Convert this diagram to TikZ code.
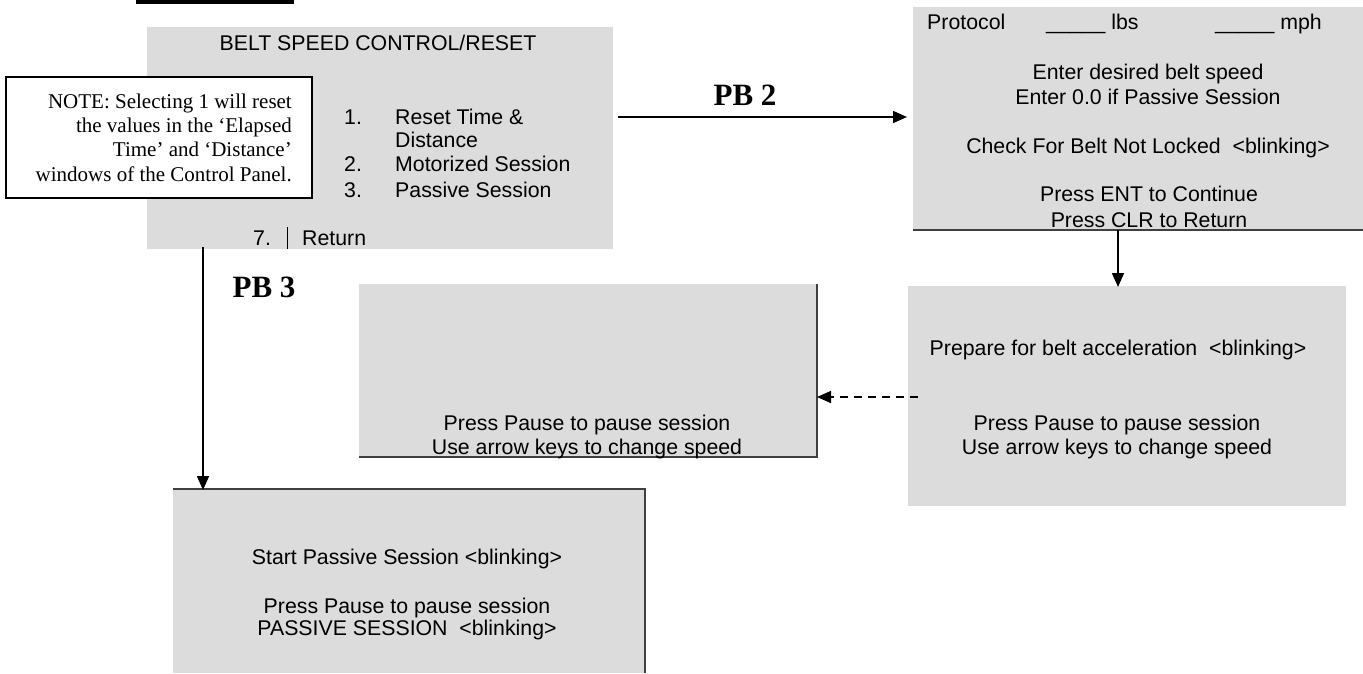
\documentclass[tikz,border=0pt]{standalone}
\usepackage{fontspec}
\setmainfont{Liberation Serif}
\newfontfamily\uifont{Liberation Sans}
\usetikzlibrary{arrows.meta,calc}
\definecolor{panel}{HTML}{DCDCDC}
\definecolor{edgecol}{HTML}{404040}
\begin{document}
\begin{tikzpicture}[x=1pt,y=-1pt,
  panelbox/.style={fill=panel,draw=none,inner sep=0pt,outer sep=0pt},
  ui/.style={font=\uifont\fontsize{21.3}{25}\selectfont,inner sep=0pt,text height=18pt,text depth=3pt},
  notetext/.style={font=\fontsize{21}{24.4}\selectfont,inner sep=0pt,align=right},
  pblabel/.style={font=\bfseries\fontsize{31}{36}\selectfont,inner sep=0pt},
  arr/.style={line width=1.6pt,-{Triangle[length=14pt,width=12pt]}},
  edgeline/.style={draw=edgecol,line width=2.2pt}]
\useasboundingbox (0,0) rectangle (1363,673);
% top bar
\fill (136,0) rectangle (294,3.5);

% panels
\node[panelbox,minimum width=466pt,minimum height=222pt] (b1) at (380,138) {};
\node[panelbox,minimum width=450pt,minimum height=223pt] (b2) at (1138,118.5) {};
\node[panelbox,minimum width=458pt,minimum height=173pt] (b3) at (588,370.5) {};
\node[panelbox,minimum width=438pt,minimum height=220pt] (b4) at (1127,396) {};
\node[panelbox,minimum width=472pt,minimum height=184pt] (b5) at (409,581) {};

% panel edges
\draw[edgeline] (b2.south west) -- (b2.south east);
\draw[edgeline] (b3.north east) -- (b3.south east) -- (b3.south west);
\draw[edgeline] (b5.north west) -- (b5.north east) -- (b5.south east);

% box 1 texts
\node[ui] (t1) at (378,43) {BELT SPEED CONTROL/RESET};
\node[ui,anchor=west] (n1) at (344,117) {1.};
\node[ui,anchor=west] (i1) at (395,117) {Reset Time \&};
\node[ui,anchor=west] (i1b) at (395,140) {Distance};
\node[ui,anchor=west] (n2) at (344,164) {2.};
\node[ui,anchor=west] (i2) at (395,164) {Motorized Session};
\node[ui,anchor=west] (n3) at (344,190) {3.};
\node[ui,anchor=west] (i3) at (395,190) {Passive Session};
\node[ui,anchor=west] (n7) at (253,238) {7.};
\coordinate (bartop) at (287,227);
\coordinate (barbot) at (287,249);
\draw[line width=1pt] (bartop) -- (barbot);
\node[ui,anchor=west] (i7) at (302,238) {Return};

% note box
\node[draw=black,fill=white,line width=1.6pt,minimum width=306pt,minimum height=121pt,inner sep=0pt] (note) at (159,137.5) {};
\node[notetext,anchor=east] (notet) at (292,137.5) {NOTE: Selecting 1 will reset\\the values in the `Elapsed\\Time' and `Distance'\\windows of the Control Panel.};

% box 2 texts
\node[ui,anchor=west] (p1) at (927,22) {Protocol};
\node[ui,anchor=west] (p2) at (1046,22) {\_\_\_\_\_ lbs};
\node[ui,anchor=west] (p3) at (1215,22) {\_\_\_\_\_ mph};
\node[ui] (e1) at (1148,72) {Enter desired belt speed};
\node[ui] (e2) at (1148,97) {Enter 0.0 if Passive Session};
\node[ui] (e3) at (1148,146) {Check For Belt Not Locked \ <blinking>};
\node[ui] (e4) at (1149,194) {Press ENT to Continue};
\node[ui] (e5) at (1149,220) {Press CLR to Return};

% box 3 texts
\node[ui] (c1) at (587,423) {Press Pause to pause session};
\node[ui] (c2) at (587,447) {Use arrow keys to change speed};

% box 4 texts
\node[ui] (d1) at (1118,348) {Prepare for belt acceleration \ <blinking>};
\node[ui] (d2) at (1117,423) {Press Pause to pause session};
\node[ui] (d3) at (1117,447) {Use arrow keys to change speed};

% box 5 texts
\node[ui] (f1) at (407,557) {Start Passive Session <blinking>};
\node[ui] (f2) at (407,606) {Press Pause to pause session};
\node[ui] (f3) at (407,628) {PASSIVE SESSION \ <blinking>};

% labels
\node[pblabel] (pb2) at (745,95) {PB 2};
\node[pblabel] (pb3) at (264,287) {PB 3};

% connectors
\coordinate (pa) at ($(b1.east)+(5,-21)$);
\draw[arr] (pa) -- (pa -| b2.west) [shorten >=6pt];
\draw[arr,shorten >=-1pt] ($(b1.south west)+(56,-2)$) -- ($(b5.north west)+(30,0)$);
\draw[arr,shorten >=-1pt] ($(b2.south west)+(205,0)$) -- ($(b4.north west)+(210,0)$);
\coordinate (da) at ($(b4.west)+(10,1)$);
\draw[line width=1.4pt,dash pattern=on 8pt off 6pt,-{Triangle[length=14pt,width=12pt]}] (da) -- (da -| b3.east);
\end{tikzpicture}
\end{document}
